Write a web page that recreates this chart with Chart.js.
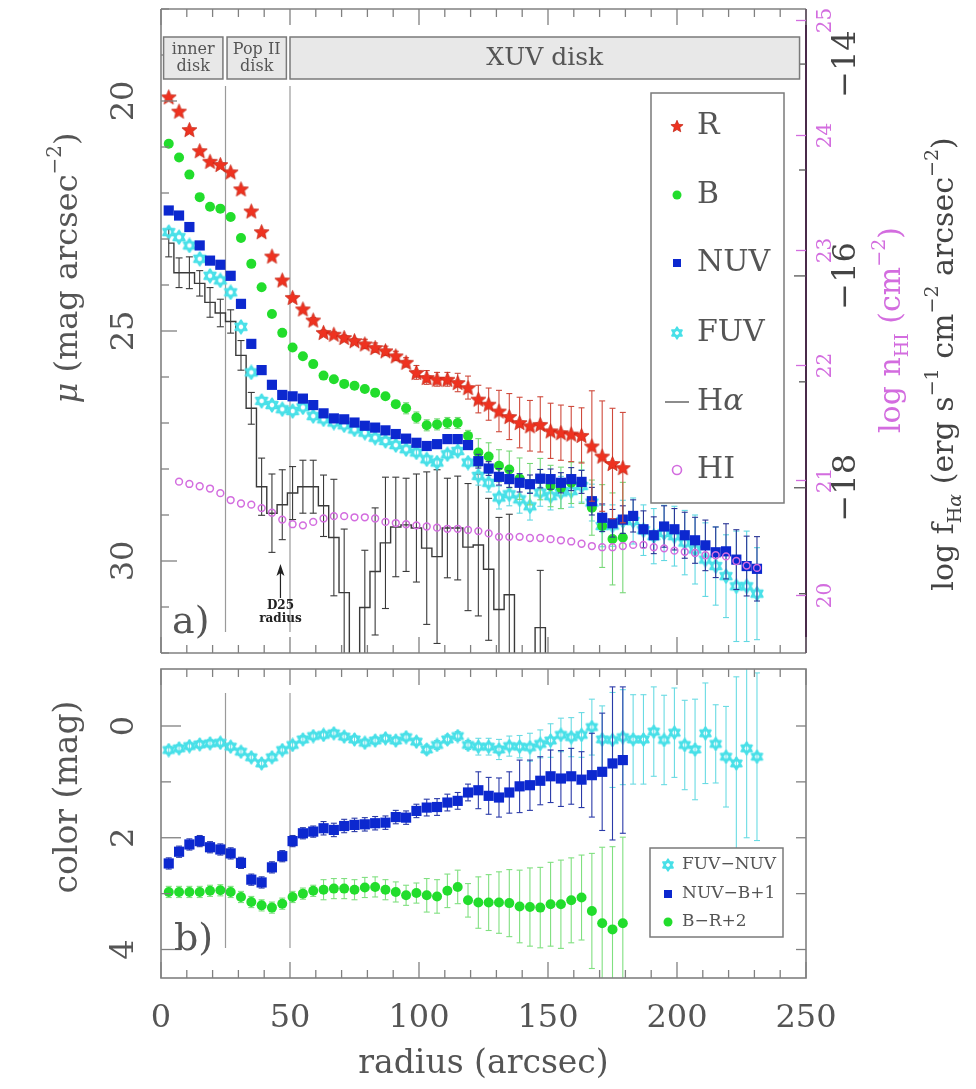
<!DOCTYPE html>
<html><head><meta charset="utf-8">
<script src="https://cdn.jsdelivr.net/npm/chart.js@4.4.1/dist/chart.umd.min.js"></script>
<style>
html,body{margin:0;padding:0;background:#fff;}
#wrap{position:relative;width:976px;height:1089px;background:#fff;}
canvas{position:absolute;left:0;top:0;}
</style></head><body>
<div id="wrap"><canvas id="cTop" width="976" height="1089"></canvas><canvas id="cBot" width="976" height="1089"></canvas></div>
<script>
// ---------------- DATA ----------------
const radiusOpt = [3,7,11,15,19,23,27,31,35,39,43,47,51,55,59,63,67,71,75,79,83,87,91,95,99,103,107,111,115,119,123,127,131,135,139,143,147,151,155,159,163,167,171,175,179];
const radiusUV = [3,7,11,15,19,23,27,31,35,39,43,47,51,55,59,63,67,71,75,79,83,87,91,95,99,103,107,111,115,119,123,127,131,135,139,143,147,151,155,159,163,167,171,175,179,183,187,191,195,199,203,207,211,215,219,223,227,231];
const radiusHI = [7,11,15,19,23,27,31,35,39,43,47,51,55,59,63,67,71,75,79,83,87,91,95,99,103,107,111,115,119,123,127,131,135,139,143,147,151,155,159,163,167,171,175,179,183,187,191,195,199,203,207,211,215,219,223,227,231];
const radiusHa = [3,7,11,15,19,23,27,31,35,39,43,47,51,55,59,63,67,71,75,79,83,87,91,95,99,103,107,111,115,119,123,127,131,135,139,143,147,151];

const muR = [19.91,20.22,20.62,21.08,21.31,21.38,21.54,21.91,22.39,22.84,23.37,23.89,24.27,24.52,24.76,25.03,25.07,25.14,25.21,25.28,25.36,25.43,25.54,25.68,25.90,26.01,26.05,26.05,26.12,26.23,26.48,26.59,26.74,26.86,26.99,27.06,27.03,27.17,27.21,27.24,27.27,27.50,27.72,27.88,27.97];
const errR = [0,0,0,0,0,0,0,0,0,0,0,0,0,0,0.05,0.05,0.05,0.05,0.05,0.1,0.1,0.1,0.1,0.1,0.15,0.15,0.15,0.15,0.2,0.25,0.3,0.35,0.45,0.5,0.55,0.55,0.6,0.6,0.6,0.6,0.6,1.2,1.2,1.2,1.2];
const muB = [20.93,21.23,21.60,22.09,22.30,22.34,22.52,22.98,23.54,24.05,24.63,25.04,25.36,25.55,25.72,25.97,26.05,26.15,26.19,26.26,26.34,26.42,26.59,26.68,26.88,27.05,27.03,27.00,27.00,27.28,27.64,27.73,27.93,28.01,28.21,28.33,28.22,28.37,28.41,28.30,28.30,28.84,29.24,29.52,29.49];
const errB = [0,0,0,0,0,0,0,0,0,0,0,0,0,0,0.05,0.05,0.05,0.05,0.05,0.05,0.05,0.05,0.05,0.12,0.12,0.12,0.12,0.12,0.12,0.12,0.3,0.3,0.35,0.4,0.45,0.45,0.45,0.45,0.45,0.45,0.45,0.6,0.9,1.0,1.2];
const muNUV = [22.38,22.49,22.74,23.14,23.47,23.56,23.80,24.41,25.28,25.85,26.17,26.39,26.42,26.47,26.61,26.79,26.90,26.92,26.99,27.06,27.10,27.16,27.24,27.34,27.43,27.50,27.46,27.35,27.35,27.48,27.83,27.99,28.17,28.22,28.30,28.33,28.21,28.22,28.30,28.22,28.28,28.70,29.06,29.18,29.10,29.02,29.31,29.44,29.25,29.31,29.44,29.55,29.66,29.81,29.79,29.97,30.11,30.17];
const errNUV = [0,0,0,0,0,0,0,0,0,0,0,0,0,0,0,0,0,0,0,0,0,0,0,0,0.05,0.05,0.05,0.05,0.05,0.05,0.15,0.15,0.18,0.18,0.2,0.2,0.2,0.22,0.22,0.25,0.25,0.3,0.3,0.3,0.3,0.35,0.4,0.4,0.45,0.45,0.5,0.5,0.55,0.55,0.6,0.65,0.65,0.7];
const muFUV = [22.85,22.96,23.14,23.43,23.80,23.90,24.16,24.91,25.90,26.52,26.61,26.70,26.74,26.66,26.85,26.92,26.99,27.05,27.14,27.21,27.32,27.39,27.48,27.57,27.64,27.79,27.86,27.68,27.61,27.86,28.15,28.30,28.62,28.55,28.66,28.81,28.51,28.59,28.51,28.48,28.37,28.73,29.24,29.23,29.13,29.13,29.33,29.46,29.39,29.46,29.60,29.75,29.97,30.11,30.33,30.55,30.55,30.71];
const errFUV = [0,0,0,0,0,0,0,0,0,0,0,0,0,0,0,0,0,0,0,0,0,0,0,0,0.08,0.08,0.08,0.08,0.08,0.08,0.2,0.2,0.25,0.25,0.3,0.3,0.3,0.3,0.35,0.35,0.35,0.4,0.45,0.45,0.45,0.5,0.55,0.6,0.6,0.65,0.7,0.75,0.8,0.85,0.9,1.2,1.2,1.0];
const logNHI = [20.99,20.97,20.95,20.93,20.89,20.83,20.80,20.79,20.76,20.72,20.66,20.62,20.61,20.64,20.67,20.69,20.69,20.68,20.68,20.67,20.64,20.63,20.62,20.61,20.60,20.59,20.58,20.58,20.57,20.56,20.54,20.51,20.51,20.51,20.50,20.50,20.49,20.48,20.47,20.45,20.43,20.42,20.42,20.43,20.44,20.44,20.42,20.41,20.39,20.38,20.37,20.35,20.35,20.34,20.30,20.26,20.24];
const logFHa = [-15.69,-15.97,-15.97,-16.07,-16.25,-16.35,-16.43,-16.75,-17.25,-17.99,-18.24,-18.16,-18.05,-17.99,-17.99,-18.17,-18.47,-18.99,-20,-19.13,-18.79,-18.52,-18.37,-18.35,-18.38,-18.57,-18.65,-18.38,-18.38,-18.56,-18.54,-18.77,-19.15,-19.01,-20,-20,-19.32,-20];
const errHa = [0.13,0.14,0.15,0.12,0.14,0.13,0.11,0.14,0.15,0.27,0.37,0.33,0.25,0.25,0.25,0.29,0.55,0.6,0,0.54,0.6,0.62,0.47,0.44,0.51,0.72,0.82,0.47,0.49,0.6,0.67,0.67,0.87,0.76,0,0,0.54,0];

const colFUVNUV = [0.43,0.40,0.36,0.33,0.31,0.30,0.37,0.46,0.56,0.67,0.56,0.43,0.34,0.24,0.18,0.16,0.13,0.19,0.24,0.30,0.26,0.22,0.26,0.20,0.28,0.42,0.34,0.24,0.18,0.34,0.37,0.37,0.42,0.36,0.37,0.38,0.32,0.26,0.16,0.20,0.16,0.02,0.24,0.25,0.20,0.24,0.24,0.10,0.25,0.12,0.34,0.42,0.13,0.32,0.55,0.67,0.40,0.55];
const errFUVNUV = [0.06,0.06,0.06,0.06,0.06,0.06,0.06,0.06,0.06,0.06,0.06,0.06,0.06,0.06,0.06,0.06,0.06,0.06,0.06,0.06,0.06,0.06,0.06,0.06,0.06,0.08,0.08,0.08,0.08,0.08,0.15,0.15,0.18,0.18,0.2,0.25,0.25,0.3,0.3,0.35,0.4,0.5,0.6,0.85,0.85,0.8,0.8,0.8,0.8,0.8,0.8,0.9,0.9,0.7,0.9,1.55,1.6,1.5];
const colNUVB = [2.46,2.25,2.12,2.06,2.17,2.21,2.28,2.45,2.75,2.80,2.53,2.33,2.06,1.92,1.89,1.83,1.86,1.79,1.77,1.76,1.74,1.73,1.63,1.64,1.52,1.46,1.45,1.37,1.34,1.19,1.15,1.25,1.28,1.19,1.08,1.06,0.98,0.90,0.94,0.90,0.96,0.88,0.82,0.67,0.61];
const errNUVB = [0.1,0.1,0.1,0.1,0.1,0.1,0.1,0.1,0.1,0.1,0.1,0.1,0.1,0.1,0.1,0.12,0.12,0.12,0.12,0.12,0.12,0.12,0.12,0.12,0.12,0.15,0.15,0.15,0.15,0.15,0.33,0.33,0.35,0.37,0.47,0.45,0.43,0.47,0.5,0.5,0.5,0.75,1.05,1.37,1.31];
const colBR = [2.97,2.97,2.97,2.97,2.95,2.94,2.97,3.06,3.15,3.21,3.25,3.18,3.06,3.00,2.95,2.93,2.91,2.91,2.93,2.89,2.88,2.93,2.97,3.03,2.99,3.03,3.05,2.95,2.88,3.12,3.16,3.16,3.16,3.17,3.23,3.24,3.25,3.19,3.19,3.12,3.07,3.31,3.53,3.64,3.53];
const errBR = [0.1,0.1,0.1,0.1,0.1,0.1,0.1,0.1,0.1,0.1,0.1,0.1,0.1,0.1,0.1,0.18,0.18,0.18,0.18,0.18,0.18,0.18,0.18,0.18,0.18,0.3,0.3,0.3,0.3,0.3,0.46,0.5,0.55,0.6,0.65,0.7,0.72,0.75,0.79,0.76,0.76,1.03,1.36,1.48,1.54];

// axes / labels
const xTickValues = [0,50,100,150,200,250];
const xTickLabels = ['0','50','100','150','200','250'];
const muTickValues = [20,25,30];
const muTickLabels = ['20','25','30'];
const hiTickValues = [20,21,22,23,24,25];
const hiTickLabels = ['20','21','22','23','24','25'];
const haTickValues = [-14,-16,-18];
const haTickLabels = ['\u221214','\u221216','\u221218'];
const colTickValues = [0,2,4];
const colTickLabels = ['0','2','4'];
const zoneEdges = [25,50];
const zoneNames = [['inner','disk'],['Pop II','disk'],['XUV disk']];
const zoneFrom = [1,25.6,50];
const zoneTo = [24,48.6,247.5];
const d25Radius = 46.3;

// ---------------- STYLE HELPERS ----------------
const FONT = '"DejaVu Serif", "Liberation Serif", serif';
const TXT = '#555';
const FRAME = '#808080';
const PINK = '#d36ddf';

function makeStar(d, fill, stroke){
  const c=document.createElement('canvas'); c.width=c.height=d; const g=c.getContext('2d');
  const R=d/2-0.6, r=R*0.45, cx=d/2, cy=d/2+R*0.1;
  g.beginPath();
  for(let k=0;k<10;k++){const rad=k%2?r:R; const a=-Math.PI/2+k*Math.PI/5; g.lineTo(cx+rad*Math.cos(a), cy+rad*Math.sin(a));}
  g.closePath(); g.fillStyle=fill; g.fill(); if(stroke){g.strokeStyle=stroke; g.lineWidth=0.7; g.stroke();}
  return c;
}
function makeHex(d, color, lw){
  const c=document.createElement('canvas'); c.width=c.height=d; const g=c.getContext('2d');
  const R=d/2-lw*0.7, cx=d/2, cy=d/2;
  g.strokeStyle=color; g.lineWidth=lw; g.lineJoin='round';
  [ -Math.PI/2, Math.PI/2 ].forEach(a0=>{ g.beginPath(); for(let k=0;k<3;k++){const a=a0+k*2*Math.PI/3; g.lineTo(cx+R*Math.cos(a), cy+R*Math.sin(a));} g.closePath(); g.stroke(); });
  return c;
}
const starImg = makeStar(17,'#ee3220','#c2200f');
const starLeg = makeStar(14,'#ee3220','#c2200f');
const hexImg = makeHex(16,'#48e0e8',2.2);
const hexLeg = makeHex(14,'#48e0e8',2);
const hexImgB = makeHex(15,'#48e0e8',2.2);

function line(ctx,x1,y1,x2,y2){ctx.beginPath();ctx.moveTo(x1,y1);ctx.lineTo(x2,y2);ctx.stroke();}
function rotText(ctx, txt, x, y, size, color, align){
  ctx.save(); ctx.translate(x,y); ctx.rotate(-Math.PI/2);
  ctx.font=size+'px '+FONT; ctx.fillStyle=color; ctx.textAlign=align||'center'; ctx.textBaseline='middle';
  ctx.fillText(txt,0,0); ctx.restore();
}
// parts: [text, mode('', 'sup','sub'), italic]
function rotRich(ctx, parts, x, y, size, color){
  ctx.save(); ctx.translate(x,y); ctx.rotate(-Math.PI/2); ctx.textBaseline='alphabetic'; ctx.textAlign='left';
  const small=Math.round(size*0.62);
  const fontOf=p=>(p[2]?'italic ':'')+(p[1]?small:size)+'px '+FONT;
  let total=0; const ws=parts.map(p=>{ctx.font=fontOf(p); const w=ctx.measureText(p[0]).width; total+=w; return w;});
  let cx=-total/2;
  parts.forEach((p,i)=>{ctx.font=fontOf(p); ctx.fillStyle=color; const dy=p[1]==='sup'?-size*0.5:(p[1]==='sub'?size*0.28:0); ctx.fillText(p[0],cx,size*0.36+dy); cx+=ws[i];});
  ctx.restore();
}

// error bars drawn through each dataset's own scales
const errorBarPlugin = {
  id:'errbars',
  beforeDatasetDraw(chart,args){
    const ds=chart.data.datasets[args.index]; if(!ds.errors) return;
    const meta=args.meta, xs=chart.scales[meta.xAxisID], ys=chart.scales[meta.yAxisID];
    const ctx=chart.ctx, a=chart.chartArea;
    ctx.save(); ctx.beginPath(); ctx.rect(a.left,a.top,a.right-a.left,a.bottom-a.top); ctx.clip();
    ctx.strokeStyle=ds.errColor; ctx.lineWidth=ds.errWidth||1.1;
    const c=ds.errCap||3;
    ds.data.forEach((p,i)=>{const e=ds.errors[i]; if(!e) return;
      const x=xs.getPixelForValue(p.x), y1=ys.getPixelForValue(p.y-e), y2=ys.getPixelForValue(p.y+e);
      line(ctx,x,y1,x,y2); line(ctx,x-c,y1,x+c,y1); line(ctx,x-c,y2,x+c,y2);});
    ctx.restore();
  }
};

function drawLegendMarker(ctx, ds, x, y){
  ctx.save();
  if(ds.legendImg){ ctx.drawImage(ds.legendImg, x-ds.legendImg.width/2, y-ds.legendImg.height/2); }
  else if(ds.showLine){ ctx.strokeStyle='#666'; ctx.lineWidth=1.5; line(ctx,x-12,y,x+12,y); }
  else if(ds.pointStyle==='rect'){ ctx.fillStyle=ds.pointBackgroundColor; const s=ds.legendSize; ctx.fillRect(x-s/2,y-s/2,s,s); }
  else { ctx.beginPath(); ctx.arc(x,y,ds.legendSize/2,0,Math.PI*2);
    if(ds.pointBackgroundColor && ds.pointBackgroundColor!=='transparent'){ctx.fillStyle=ds.pointBackgroundColor; ctx.fill();}
    else {ctx.strokeStyle=ds.pointBorderColor; ctx.lineWidth=1.6; ctx.stroke();} }
  ctx.restore();
}

function xTicksInward(ctx, xs, top, bottom){
  ctx.save(); ctx.strokeStyle=FRAME; ctx.lineWidth=1.3;
  for(let v=0; v<=250; v+=10){ const px=xs.getPixelForValue(v); const L=(v%50===0)?16:8; line(ctx,px,top,px,top+L); line(ctx,px,bottom,px,bottom-L); }
  ctx.restore();
}

// ---------------- TOP PANEL ----------------
const topDecor = {
  id:'topDecor',
  beforeDatasetsDraw(chart){
    const ctx=chart.ctx, xs=chart.scales.x;
    ctx.save(); ctx.strokeStyle='#9a9a9a'; ctx.lineWidth=1.2;
    zoneEdges.forEach(r=>{const px=xs.getPixelForValue(r); line(ctx,px,86,px,632);});
    ctx.restore();
  },
  afterDatasetsDraw(chart){
    const ctx=chart.ctx, a=chart.chartArea, xs=chart.scales.x, mu=chart.scales.mu, hi=chart.scales.hi, ha=chart.scales.ha;
    // frame
    ctx.save(); ctx.lineWidth=1.6; ctx.strokeStyle=FRAME;
    line(ctx,a.left,a.top,a.right,a.top); line(ctx,a.left,a.bottom,a.right,a.bottom); line(ctx,a.left,a.top,a.left,a.bottom);
    ctx.strokeStyle='#4a2a4a'; ctx.lineWidth=2; line(ctx,a.right,a.top,a.right,a.bottom);
    ctx.restore();
    xTicksInward(ctx,xs,a.top,a.bottom);
    // left ticks
    ctx.save(); ctx.strokeStyle=FRAME; ctx.lineWidth=1.3;
    for(let v=18; v<=32; v++){const py=mu.getPixelForValue(v); const L=(v%5===0)?16:8; line(ctx,a.left,py,a.left+L,py);}
    ctx.restore();
    // right ticks (pink HI axis, dark H-alpha axis)
    ctx.save(); ctx.lineWidth=1.3;
    ctx.strokeStyle=PINK; hiTickValues.forEach(v=>{const py=hi.getPixelForValue(v); line(ctx,a.right,py,a.right-10,py);});
    ctx.strokeStyle='#555'; for(let v=-19; v<=-14; v++){const py=ha.getPixelForValue(v); line(ctx,a.right,py,a.right-(v%2===0?12:7),py);}
    ctx.restore();
    // tick labels
    muTickValues.forEach((v,i)=>rotText(ctx,muTickLabels[i],125,mu.getPixelForValue(v),32,TXT));
    hiTickValues.forEach((v,i)=>rotText(ctx,hiTickLabels[i],826,hi.getPixelForValue(v),20,PINK));
    haTickValues.forEach((v,i)=>rotText(ctx,haTickLabels[i],847,ha.getPixelForValue(v),32,'#444'));
    // axis titles
    rotRich(ctx,[['\u03bc','',true],[' (mag arcsec',''],['\u22122','sup'],[')','']],65,268,32,TXT);
    rotRich(ctx,[['log n',''],['HI','sub'],[' (cm',''],['\u22122','sup'],[')','']],889,330,30,PINK);
    rotRich(ctx,[['log f',''],['H','sub'],['\u03b1','sub',true],[' (erg s',''],['\u22121','sup'],[' cm',''],['\u22122','sup'],[' arcsec',''],['\u22122','sup'],[')','']],942,364,30,'#444');
    // zone boxes
    ctx.save();
    zoneNames.forEach((nm,i)=>{
      const x1=xs.getPixelForValue(zoneFrom[i]), x2=xs.getPixelForValue(zoneTo[i]);
      ctx.fillStyle='#e8e8e8'; ctx.fillRect(x1,37,x2-x1,42); ctx.strokeStyle='#7a7a7a'; ctx.lineWidth=1.5; ctx.strokeRect(x1,37,x2-x1,42);
      ctx.fillStyle=TXT; ctx.textAlign='center'; ctx.textBaseline='middle';
      if(nm.length===2){ ctx.font='16px '+FONT; ctx.fillText(nm[0],(x1+x2)/2,50); ctx.fillText(nm[1],(x1+x2)/2,67); }
      else { ctx.font='25px '+FONT; ctx.fillText(nm[0],(x1+x2)/2,58); }
    });
    ctx.restore();
    // legend
    ctx.save(); ctx.fillStyle='#fff'; ctx.fillRect(651,93,133,410); ctx.strokeStyle='#7a7a7a'; ctx.lineWidth=1.5; ctx.strokeRect(651,93,133,410);
    const legY=[126,195,263,333,402,470];
    const legOrder=['R','B','NUV','FUV','H\u03b1','HI'];
    legOrder.forEach((lab,i)=>{
      const ds=chart.data.datasets.find(d=>d.label===lab);
      drawLegendMarker(ctx,ds,677,legY[i]);
      ctx.fillStyle=TXT; ctx.textAlign='left'; ctx.textBaseline='middle';
      if(lab==='H\u03b1'){ ctx.font='30px '+FONT; ctx.fillText('H',697,legY[i]); const w=ctx.measureText('H').width; ctx.font='italic 30px '+FONT; ctx.fillText('\u03b1',697+w,legY[i]); }
      else { ctx.font='30px '+FONT; ctx.fillText(lab,697,legY[i]); }
    });
    ctx.restore();
    // a) label
    ctx.save(); ctx.fillStyle=TXT; ctx.font='38px '+FONT; ctx.textAlign='left'; ctx.textBaseline='alphabetic'; ctx.fillText('a)',172,633); ctx.restore();
    // D25 arrow
    ctx.save(); const dx=xs.getPixelForValue(d25Radius);
    ctx.strokeStyle='#222'; ctx.fillStyle='#222'; ctx.lineWidth=1.2; line(ctx,dx,598,dx,572);
    ctx.beginPath(); ctx.moveTo(dx,564); ctx.lineTo(dx-4,576); ctx.lineTo(dx,573); ctx.lineTo(dx+4,576); ctx.closePath(); ctx.fill();
    ctx.font='bold 12px '+FONT; ctx.textAlign='center'; ctx.textBaseline='middle'; ctx.fillText('D25',dx,606); ctx.fillText('radius',dx,619);
    ctx.restore();
  }
};

const topChart = new Chart(document.getElementById('cTop'), {
  type:'line',
  data:{datasets:[
    {label:'R', data:radiusOpt.map((r,i)=>({x:r,y:muR[i]})), yAxisID:'mu', showLine:false, pointStyle:starImg, legendImg:starLeg, errors:errR, errColor:'#cf4a3c', order:0},
    {label:'HI', data:radiusHI.map((r,i)=>({x:r,y:logNHI[i]})), yAxisID:'hi', showLine:false, pointStyle:'circle', pointRadius:3.4, pointBorderWidth:1.5, pointBorderColor:PINK, pointBackgroundColor:'transparent', legendSize:9, order:1},
    {label:'NUV', data:radiusUV.map((r,i)=>({x:r,y:muNUV[i]})), yAxisID:'mu', showLine:false, pointStyle:'rect', pointRadius:7.2, pointBorderWidth:0, pointBackgroundColor:'#0c28cf', pointBorderColor:'#0c28cf', legendSize:8, errors:errNUV, errColor:'#2a3596', order:2},
    {label:'B', data:radiusOpt.map((r,i)=>({x:r,y:muB[i]})), yAxisID:'mu', showLine:false, pointStyle:'circle', pointRadius:5, pointBorderWidth:0, pointBackgroundColor:'#22dd2c', pointBorderColor:'#22dd2c', legendSize:9, errors:errB, errColor:'#78d878', order:3},
    {label:'FUV', data:radiusUV.map((r,i)=>({x:r,y:muFUV[i]})), yAxisID:'mu', showLine:false, pointStyle:hexImg, legendImg:hexLeg, errors:errFUV, errColor:'#62d8e2', order:4},
    {label:'H\u03b1', data:radiusHa.map((r,i)=>({x:r,y:logFHa[i]})), yAxisID:'ha', showLine:true, stepped:'middle', borderColor:'#3a3a3a', borderWidth:1.4, pointRadius:0, fill:false, errors:errHa, errColor:'#3a3a3a', errCap:3.5, order:5}
  ]},
  options:{
    responsive:false, animation:false, devicePixelRatio:1, events:[],
    layout:{padding:{left:161,right:170,top:9,bottom:436}},
    scales:{
      x:{type:'linear',min:0,max:250,display:false},
      mu:{type:'linear',reverse:true,min:18,max:32,display:false},
      ha:{type:'linear',min:-19.56,max:-13.48,display:false},
      hi:{type:'linear',min:19.5,max:25.1,display:false}
    },
    plugins:{legend:{display:false},tooltip:{enabled:false}}
  },
  plugins:[errorBarPlugin, topDecor]
});

// ---------------- BOTTOM PANEL ----------------
const botDecor = {
  id:'botDecor',
  beforeDatasetsDraw(chart){
    const ctx=chart.ctx, xs=chart.scales.x;
    ctx.save(); ctx.strokeStyle='#9a9a9a'; ctx.lineWidth=1.2;
    zoneEdges.forEach(r=>{const px=xs.getPixelForValue(r); line(ctx,px,693,px,948);});
    ctx.restore();
  },
  afterDatasetsDraw(chart){
    const ctx=chart.ctx, a=chart.chartArea, xs=chart.scales.x, cs=chart.scales.col;
    ctx.save(); ctx.lineWidth=1.6; ctx.strokeStyle=FRAME; ctx.strokeRect(a.left,a.top,a.right-a.left,a.bottom-a.top); ctx.restore();
    xTicksInward(ctx,xs,a.top,a.bottom);
    ctx.save(); ctx.strokeStyle=FRAME; ctx.lineWidth=1.3;
    for(let v=0; v<=4; v++){const py=cs.getPixelForValue(v); line(ctx,a.left,py,a.left+(v%2===0?20:10),py); line(ctx,a.right,py,a.right-10,py);}
    ctx.restore();
    colTickValues.forEach((v,i)=>rotText(ctx,colTickLabels[i],125,cs.getPixelForValue(v),32,TXT));
    rotRich(ctx,[['color (mag)','']],65,797,33,TXT);
    // x tick labels & title
    ctx.save(); ctx.fillStyle=TXT; ctx.font='32px '+FONT; ctx.textAlign='center'; ctx.textBaseline='middle';
    xTickValues.forEach((v,i)=>ctx.fillText(xTickLabels[i],xs.getPixelForValue(v),1019));
    ctx.font='33px '+FONT; ctx.fillText('radius (arcsec)',(a.left+a.right)/2,1064);
    ctx.restore();
    // legend
    ctx.save(); ctx.fillStyle='#fff'; ctx.fillRect(650,848,133,89); ctx.strokeStyle='#7a7a7a'; ctx.lineWidth=1.5; ctx.strokeRect(650,848,133,89);
    const legY=[865,894,922];
    chart.data.datasets.forEach((ds,i)=>{
      drawLegendMarker(ctx,ds,668,legY[i]);
      ctx.fillStyle=TXT; ctx.font='17px '+FONT; ctx.textAlign='left'; ctx.textBaseline='middle'; ctx.fillText(ds.label,682,legY[i]);
    });
    ctx.restore();
    ctx.save(); ctx.fillStyle=TXT; ctx.font='38px '+FONT; ctx.textAlign='left'; ctx.textBaseline='alphabetic'; ctx.fillText('b)',174,950); ctx.restore();
  }
};

const botChart = new Chart(document.getElementById('cBot'), {
  type:'line',
  data:{datasets:[
    {label:'FUV\u2212NUV', data:radiusUV.map((r,i)=>({x:r,y:colFUVNUV[i]})), yAxisID:'col', showLine:false, pointStyle:hexImgB, legendImg:hexLeg, errors:errFUVNUV, errColor:'#6adbe3', order:2},
    {label:'NUV\u2212B+1', data:radiusOpt.map((r,i)=>({x:r,y:colNUVB[i]})), yAxisID:'col', showLine:false, pointStyle:'rect', pointRadius:7.2, pointBorderWidth:0, pointBackgroundColor:'#0c28cf', pointBorderColor:'#0c28cf', legendSize:8, errors:errNUVB, errColor:'#2a3aa8', order:1},
    {label:'B\u2212R+2', data:radiusOpt.map((r,i)=>({x:r,y:colBR[i]})), yAxisID:'col', showLine:false, pointStyle:'circle', pointRadius:5, pointBorderWidth:0, pointBackgroundColor:'#22dd2c', pointBorderColor:'#22dd2c', legendSize:9, errors:errBR, errColor:'#80e080', order:0}
  ]},
  options:{
    responsive:false, animation:false, devicePixelRatio:1, events:[],
    layout:{padding:{left:161,right:170,top:669,bottom:111}},
    scales:{
      x:{type:'linear',min:0,max:250,display:false},
      col:{type:'linear',reverse:true,min:-1.02,max:4.51,display:false}
    },
    plugins:{legend:{display:false},tooltip:{enabled:false}}
  },
  plugins:[errorBarPlugin, botDecor]
});
</script>
</body></html>
